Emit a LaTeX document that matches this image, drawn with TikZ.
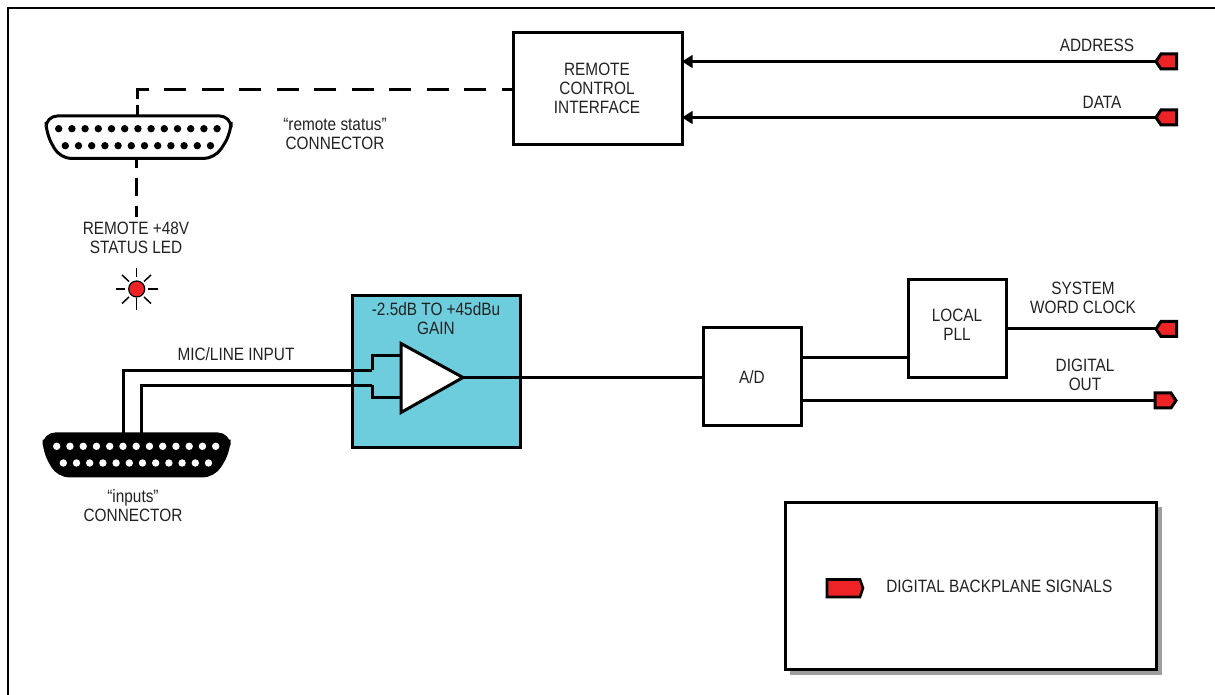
\documentclass[tikz,border=0pt]{standalone}
\usepackage{fontspec}
\setmainfont[FakeStretch=0.86]{Liberation Sans}
\usetikzlibrary{arrows.meta}
\definecolor{txt}{HTML}{222222}
\definecolor{tagred}{HTML}{EE2326}
\definecolor{gaincol}{HTML}{6ECDDC}
\newcommand{\dbconn}[7]{% x-left-top,x-right-top,top,bottom,xl-bottom,xr-bottom,style
  \draw[#7,rounded corners=8.5] (#1,{(#3+#4)/2-4}) -- (#1,#3) -- (#2,#3) -- (#2,{(#3+#4)/2-4}) -- (#6,#4) -- (#5,#4) -- cycle;
}
\tikzset{
  x=0.75pt,y=-0.75pt,
  wire/.style={line width=2.25pt,draw=black},
  box/.style={draw=black,line width=2.25pt,fill=white,minimum width=0pt,inner sep=0pt,outer sep=0pt},
  lab/.style={text=txt,font=\fontsize{13.4pt}{14.25pt}\selectfont,align=center,inner sep=0pt},
  tagshape/.style={draw=black,fill=tagred,line width=2.25pt,miter limit=4},
  ray/.style={draw=black,line width=1.1pt},
  inarrow/.style={-{Triangle[length=8pt,width=9.5pt]}},
  dashh/.style={wire,dash pattern=on 16.5pt off 11.6pt,dash phase=8pt},
}
\begin{document}
\begin{tikzpicture}
\useasboundingbox (0,0) rectangle (1215,695);
\fill[white] (0,0) rectangle (1215,695);
% outer frame
\draw[line width=1.5pt] (8,695) -- (8,8) -- (1215,8);

% blocks
\node[box,minimum width=126.75pt,minimum height=84pt] (remote) at (597.5,89) {};
\node[lab] (remotetxt) at (597,88.5) {REMOTE\\CONTROL\\INTERFACE};
\node[box,fill=gaincol,minimum width=126pt,minimum height=114pt] (gain) at (436,371.5) {};
\node[lab] (gaintxt) at (436,319) {-2.5dB TO +45dBu\\GAIN};
\node[box,minimum width=73.5pt,minimum height=73.5pt] (ad) at (752.5,377) {};
\node[lab] (adtxt) at (752,377) {A/D};
\node[box,minimum width=73.5pt,minimum height=73.5pt] (pll) at (957,328.5) {};
\node[lab] (plltxt) at (957,325) {LOCAL\\PLL};

% end points
\coordinate (addr) at (1156,61.5);
\coordinate (data) at (1156,117.5);
\coordinate (wclk) at (1156,329);
\coordinate (dout) at (1155,400.5);
\coordinate (rtop) at (137,116);
\coordinate (rdash) at (137,105);
\coordinate (rcorner) at (137,89.5);
\coordinate (rbot) at (136.5,159);
\coordinate (rled) at (136.5,217);
\coordinate (intop) at (123,433);
\coordinate (intoq) at (141.5,433);
\coordinate (ampa) at (401,356);
\coordinate (ampb) at (401,398);
\coordinate (ampo) at (463,377.5);
\coordinate (adpll) at (802,357.5);

% connectors
\draw[wire,inarrow] (addr) -- (remote.east |- addr);
\draw[wire,inarrow] (data) -- (remote.east |- data);
\draw[dashh] (remote.west |- rcorner) -- (rcorner) -- (rdash);
\draw[wire] (rdash) -- (rtop);
\draw[wire,dash pattern=on 7pt off 7.5pt on 13pt off 7.5pt on 13pt off 20pt] (rbot) -- (rled);
\draw[wire] (ampo) -- (ad.west |- ampo);
\draw[wire] (intop) -- (123,370.5) -- (372,370.5);
\draw[wire] (intoq) -- (141.5,385.5) -- (372,385.5);
\draw[wire] (372,370.5) -- (372,356) -- (ampa);
\draw[wire] (372,385.5) -- (372,398) -- (ampb);
\draw[wire] (ad.east |- adpll) -- (pll.west |- adpll);
\draw[wire] (pll.east |- wclk) -- (wclk);
\draw[wire] (ad.east |- dout) -- (dout);

% amplifier
\draw[wire,fill=white,line join=miter] (401,343.5) -- (ampo) -- (401,412.5) -- cycle;

% backplane tags
\foreach \c in {addr,data,wclk}{
  \draw[tagshape] (\c) -- ++(5,-7.5) -- ++(15.5,0) -- ++(0,15) -- ++(-15.5,0) -- cycle;
}
\draw[tagshape] (dout) ++(0,-7.5) -- ++(16,0) -- ++(5,7.5) -- ++(-5,7.5) -- ++(-16,0) -- cycle;

% labels
\node[lab] (laddr) at (1097,45.5) {ADDRESS};
\node[lab] (ldata) at (1102,102.5) {DATA};
\node[lab] (lrs) at (335,134) {“remote status”\\CONNECTOR};
\node[lab] (lrem) at (136,238) {REMOTE +48V\\STATUS LED};
\node[lab] (lmic) at (236,354.5) {MIC/LINE INPUT};
\node[lab] (linp) at (133,506) {“inputs”\\CONNECTOR};
\node[lab] (lwc) at (1083,298) {SYSTEM\\WORD CLOCK};
\node[lab] (ldo) at (1085,375) {DIGITAL\\OUT};

% remote status connector
\dbconn{46}{231}{116}{158.5}{60}{215}{draw=black,line width=2.25pt,fill=white}
\foreach \i in {0,...,12}{\fill[black] ({58.7+13.2*\i},128.7) circle (3.7);}
\foreach \i in {0,...,11}{\fill[black] ({65.3+13.2*\i},145.7) circle (3.7);}

% inputs connector
\dbconn{44}{229}{434}{476}{58}{214}{draw=black,line width=2.25pt,fill=black}
\foreach \i in {0,...,12}{\fill[white] ({56.7+13.25*\i},446.3) circle (3.7);}
\foreach \i in {0,...,11}{\fill[white] ({63.3+13.2*\i},463) circle (3.7);}

% LED
\node[circle,draw=black,fill=tagred,line width=0.9pt,minimum size=12pt,inner sep=0pt] (led) at (136.7,289) {};
\draw[ray] (136.7,268) -- (136.7,277);
\draw[ray] (136.7,298) -- (136.7,310);
\draw[ray] (116,289) -- (125,289);
\draw[ray] (148,289) -- (158,289);
\draw[ray] (122,275) -- (129,281.5);
\draw[ray] (151,275) -- (144,281.5);
\draw[ray] (122,303.5) -- (129,297);
\draw[ray] (151,303.5) -- (144,297);

% legend
\fill[black!38] (790,507) rectangle (1162,674.5);
\node[box,minimum width=278.25pt,minimum height=125.25pt] (legend) at (971,586) {};
\draw[tagshape,line width=1.9pt] (827,579.5) -- (860,579.5) -- (863,588) -- (860,597) -- (827,597) -- cycle;
\node[lab,anchor=west] (llegend) at (886,586.5) {DIGITAL BACKPLANE SIGNALS};
\end{tikzpicture}
\end{document}
